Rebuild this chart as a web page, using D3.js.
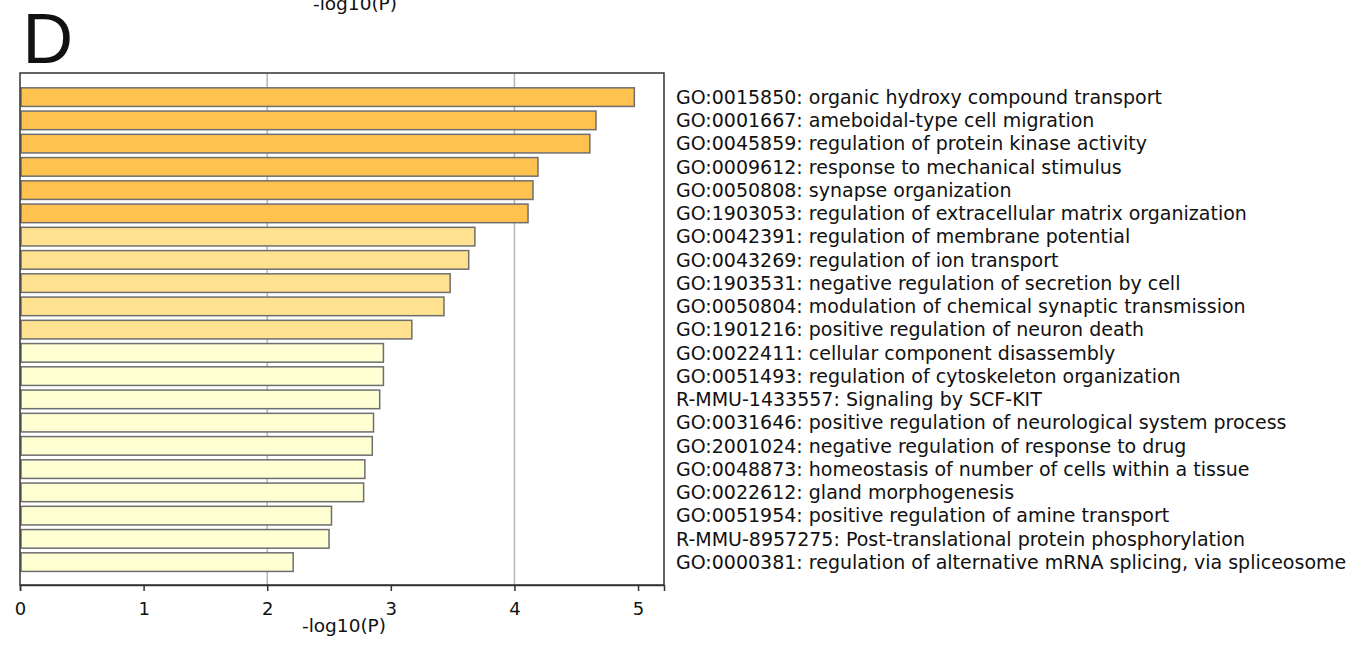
<!DOCTYPE html>
<html>
<head>
<meta charset="utf-8">
<script src="https://cdn.jsdelivr.net/npm/d3@7"></script>
<style>
	body { margin: 0; background: #fff; }
	text { font-family: "DejaVu Sans", Verdana, sans-serif; fill: #111; }
	.axis path, .axis line { stroke: #333; }
</style>
</head>
<body>
<div id="chart"></div>
<script>
var terms = [
	'GO:0015850: organic hydroxy compound transport',
	'GO:0001667: ameboidal-type cell migration',
	'GO:0045859: regulation of protein kinase activity',
	'GO:0009612: response to mechanical stimulus',
	'GO:0050808: synapse organization',
	'GO:1903053: regulation of extracellular matrix organization',
	'GO:0042391: regulation of membrane potential',
	'GO:0043269: regulation of ion transport',
	'GO:1903531: negative regulation of secretion by cell',
	'GO:0050804: modulation of chemical synaptic transmission',
	'GO:1901216: positive regulation of neuron death',
	'GO:0022411: cellular component disassembly',
	'GO:0051493: regulation of cytoskeleton organization',
	'R-MMU-1433557: Signaling by SCF-KIT',
	'GO:0031646: positive regulation of neurological system process',
	'GO:2001024: negative regulation of response to drug',
	'GO:0048873: homeostasis of number of cells within a tissue',
	'GO:0022612: gland morphogenesis',
	'GO:0051954: positive regulation of amine transport',
	'R-MMU-8957275: Post-translational protein phosphorylation',
	'GO:0000381: regulation of alternative mRNA splicing, via spliceosome'
]
var logP = [4.97, 4.66, 4.61, 4.19, 4.15, 4.11, 3.68, 3.63, 3.48, 3.43, 3.17,
	2.94, 2.94, 2.91, 2.86, 2.85, 2.79, 2.78, 2.52, 2.50, 2.21]
var xTicks = [0, 1, 2, 3, 4, 5]
var gridValues = [2, 4]
var tierBreaks = [3, 4]
var tierColors = ['#ffffd4', '#ffe290', '#ffc24f']

var data = terms.map(function(t, i) {
	return { term: t, value: logP[i] }
})

var width = 1355
var height = 646
var frame = { left: 20, right: 664, top: 73, bottom: 585 }

var svg = d3.select('#chart').append('svg')
	.attr('width', width)
	.attr('height', height)

var xScale = d3.scaleLinear()
	.domain([0, 5.21])
	.range([frame.left, frame.right])

var yScale = d3.scaleBand()
	.domain(terms)
	.range([85.5, 85.5 + 23.25 * 21])
	.paddingInner(0.2)
	.paddingOuter(0.1)

var colorScale = d3.scaleThreshold()
	.domain(tierBreaks)
	.range(tierColors)

// grid lines
svg.append('g').selectAll('line')
	.data(gridValues)
	.enter().append('line')
	.attr('x1', function(d) { return xScale(d) })
	.attr('x2', function(d) { return xScale(d) })
	.attr('y1', frame.top)
	.attr('y2', frame.bottom)
	.attr('stroke', '#b5b5b5')
	.attr('stroke-width', 1.5)

// bars
svg.append('g').selectAll('rect')
	.data(data)
	.enter().append('rect')
	.attr('x', xScale(0) + 1)
	.attr('y', function(d) { return yScale(d.term) })
	.attr('width', function(d) { return xScale(d.value) - xScale(0) - 1 })
	.attr('height', yScale.bandwidth())
	.attr('fill', function(d) { return colorScale(d.value) })
	.attr('stroke', '#6e6e6e')
	.attr('stroke-width', 1.5)

// frame
svg.append('rect')
	.attr('x', frame.left)
	.attr('y', frame.top)
	.attr('width', frame.right - frame.left)
	.attr('height', frame.bottom - frame.top)
	.attr('fill', 'none')
	.attr('stroke', '#333')
	.attr('stroke-width', 1.5)

// x axis
var xAxis = svg.append('g')
	.attr('class', 'axis')
	.attr('transform', 'translate(0,' + frame.bottom + ')')
	.call(d3.axisBottom(xScale).tickValues(xTicks).tickSize(6).tickPadding(11).tickFormat(d3.format('d')))
xAxis.select('.domain').attr('stroke-width', 1.5)
xAxis.selectAll('line').attr('stroke-width', 1.5)
xAxis.selectAll('text').attr('fill', '#111').attr('font-family', '"DejaVu Sans", Verdana, sans-serif').attr('font-size', 18)

svg.append('text')
	.attr('x', 344)
	.attr('y', 632)
	.attr('text-anchor', 'middle')
	.attr('font-size', 18.5)
	.text('-log10(P)')

// cut-off title from panel above
svg.append('text')
	.attr('x', 355)
	.attr('y', 10)
	.attr('text-anchor', 'middle')
	.attr('font-size', 18.5)
	.text('-log10(P)')

svg.append('text')
	.attr('x', 22.5)
	.attr('y', 63)
	.style('font-family', '"Liberation Sans", Arial, sans-serif')
	.attr('font-size', 70)
	.text('D')

// term labels
svg.append('g').selectAll('text')
	.data(data)
	.enter().append('text')
	.attr('x', 676)
	.attr('y', function(d) { return yScale(d.term) + yScale.bandwidth() / 2 })
	.attr('dy', '0.35em')
	.attr('font-size', 19)
	.text(function(d) { return d.term })
</script>
</body>
</html>
